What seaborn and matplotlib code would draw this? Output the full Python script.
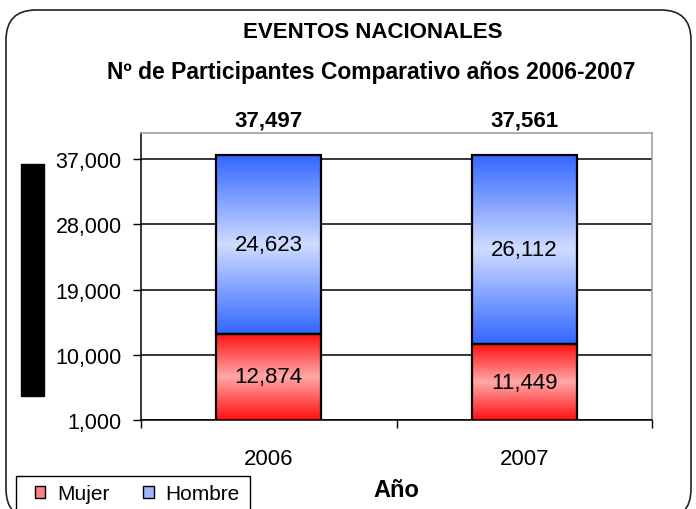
import numpy as np
import seaborn as sns
import matplotlib.pyplot as plt
from matplotlib.colors import LinearSegmentedColormap
from matplotlib.patches import Rectangle, FancyBboxPatch, Patch

# data
years = ['2006', '2007']
mujer = [12874, 11449]
hombre = [24623, 26112]
totals = [m + h for m, h in zip(mujer, hombre)]
yticks = [1000, 10000, 19000, 28000, 37000]

sns.set_style('white')
plt.rcParams['font.family'] = ['Liberation Sans', 'DejaVu Sans']
plt.rcParams.update({'text.color': 'black', 'axes.labelcolor': 'black',
                     'xtick.color': 'black', 'ytick.color': 'black'})

fig = plt.figure(figsize=(6.96, 5.10), dpi=100)
ax = fig.add_axes([141 / 696, 1 - 421 / 510, 511 / 696, 287 / 510])

# Hombre drawn first (full height, moved onto Mujer afterwards), then Mujer
sns.barplot(x=years, y=totals, color='#4a78ff', width=0.41, errorbar=None, ax=ax)
sns.barplot(x=years, y=mujer, color='#ff3030', width=0.41, errorbar=None, ax=ax)

ymin, ymax = 1000, 40600
ax.set_ylim(ymin, ymax)
ax.set_xlim(-0.5, 1.5)

red_cm = LinearSegmentedColormap.from_list('r', ['#ff1010', '#ffa8a8', '#ff1010'])
blue_cm = LinearSegmentedColormap.from_list('b', ['#3366ff', '#cfdcff', '#3366ff'])

patches = list(ax.patches)
hom_patches = patches[:len(years)]
muj_patches = patches[len(years):2 * len(years)]
for p, m, h in zip(hom_patches, mujer, hombre):
    p.set_y(m)
    p.set_height(h)

grad = np.linspace(0, 1, 256).reshape(-1, 1)
for group, cm in ((hom_patches, blue_cm), (muj_patches, red_cm)):
    for p in group:
        x0 = p.get_x()
        x1 = x0 + p.get_width()
        y0 = max(p.get_y(), ymin)
        y1 = p.get_y() + p.get_height()
        p.set_facecolor('none')
        p.set_edgecolor('black')
        p.set_linewidth(1.6)
        p.set_zorder(3)
        im = ax.imshow(grad, cmap=cm, extent=[x0, x1, y0, y1], aspect='auto',
                       origin='lower', zorder=2.5, interpolation='bilinear')
        im.set_clip_path(p)

ax.set_xlim(-0.5, 1.5)
ax.set_ylim(ymin, ymax)

# segment labels
for i, (m, h, t) in enumerate(zip(mujer, hombre, totals)):
    ax.text(i, (ymin + m) / 2, f'{m:,}', ha='center', va='center',
            fontsize=16, zorder=5)
    ax.text(i, m + h / 2, f'{h:,}', ha='center', va='center', fontsize=16, zorder=5)
    ax.annotate(f'{t:,}', xy=(i, 1.0), xycoords=('data', 'axes fraction'),
                xytext=(0, 1.5), textcoords='offset points', ha='center', va='bottom',
                fontsize=16, fontweight='bold')

# grid lines at ticks
for yv in yticks:
    ax.axhline(yv, color='black', lw=1.1, zorder=1)

ax.set_yticks(yticks)
ax.set_yticklabels([f'{v:,}' for v in yticks], fontsize=15.5)
ax.tick_params(axis='y', which='major', length=6, width=1, pad=8, left=True, color='black')

ax.set_xticks([0, 1])
ax.set_xticklabels(years, fontsize=16)
ax.set_xticks([-0.5, 0.5, 1.5], minor=True)
ax.tick_params(axis='x', which='major', length=0, pad=20)
ax.tick_params(axis='x', which='minor', length=6, width=1, bottom=True, direction='out', color='black')
ax.set_xlabel('Año', fontsize=17, fontweight='bold', labelpad=7)
ax.set_ylabel('')

for side in ('left', 'bottom'):
    ax.spines[side].set_color('black')
    ax.spines[side].set_linewidth(1.1)
for side in ('top', 'right'):
    ax.spines[side].set_color('#999999')
    ax.spines[side].set_linewidth(1.1)

# titles
fig.text(373 / 696, 1 - 33 / 510, 'EVENTOS NACIONALES', ha='center', va='center',
         fontsize=16, fontweight='bold')
fig.text(371 / 696, 1 - 73 / 510, 'Nº de Participantes Comparativo años 2006-2007',
         ha='center', va='center', fontsize=16.5, fontweight='bold')

# black block where the y-axis title was
fig.patches.append(Rectangle((21 / 696, 1 - 397 / 510), 23 / 696, 232 / 510,
                             transform=fig.transFigure, color='black'))

# rounded chart border
fig.patches.append(FancyBboxPatch((0.06, -0.10), 6.85, 5.09,
                                  boxstyle='round,pad=0,rounding_size=0.3',
                                  transform=fig.dpi_scale_trans, facecolor='none',
                                  edgecolor='#222222', linewidth=1.2))

# legend box (drawn separately so the padding can be wider than tall)
fig.patches.append(Rectangle((16 / 696, -0.02), 234 / 696, (1 - 477 / 510) + 0.02,
                             transform=fig.transFigure, facecolor='white',
                             edgecolor='black', linewidth=1.0, zorder=4))
handles = [Patch(facecolor='#ff8080', edgecolor='black', label='Mujer'),
           Patch(facecolor='#a0b4ff', edgecolor='black', label='Hombre')]
leg = fig.legend(handles=handles, loc='center left', bbox_to_anchor=(35 / 696, 1 - 495 / 510),
                 ncol=2, fontsize=15, frameon=False, borderaxespad=0, borderpad=0,
                 handlelength=0.5, handleheight=0.5, handletextpad=0.58, columnspacing=1.6)
leg.set_zorder(5)

fig.savefig('out.png', dpi=100)
